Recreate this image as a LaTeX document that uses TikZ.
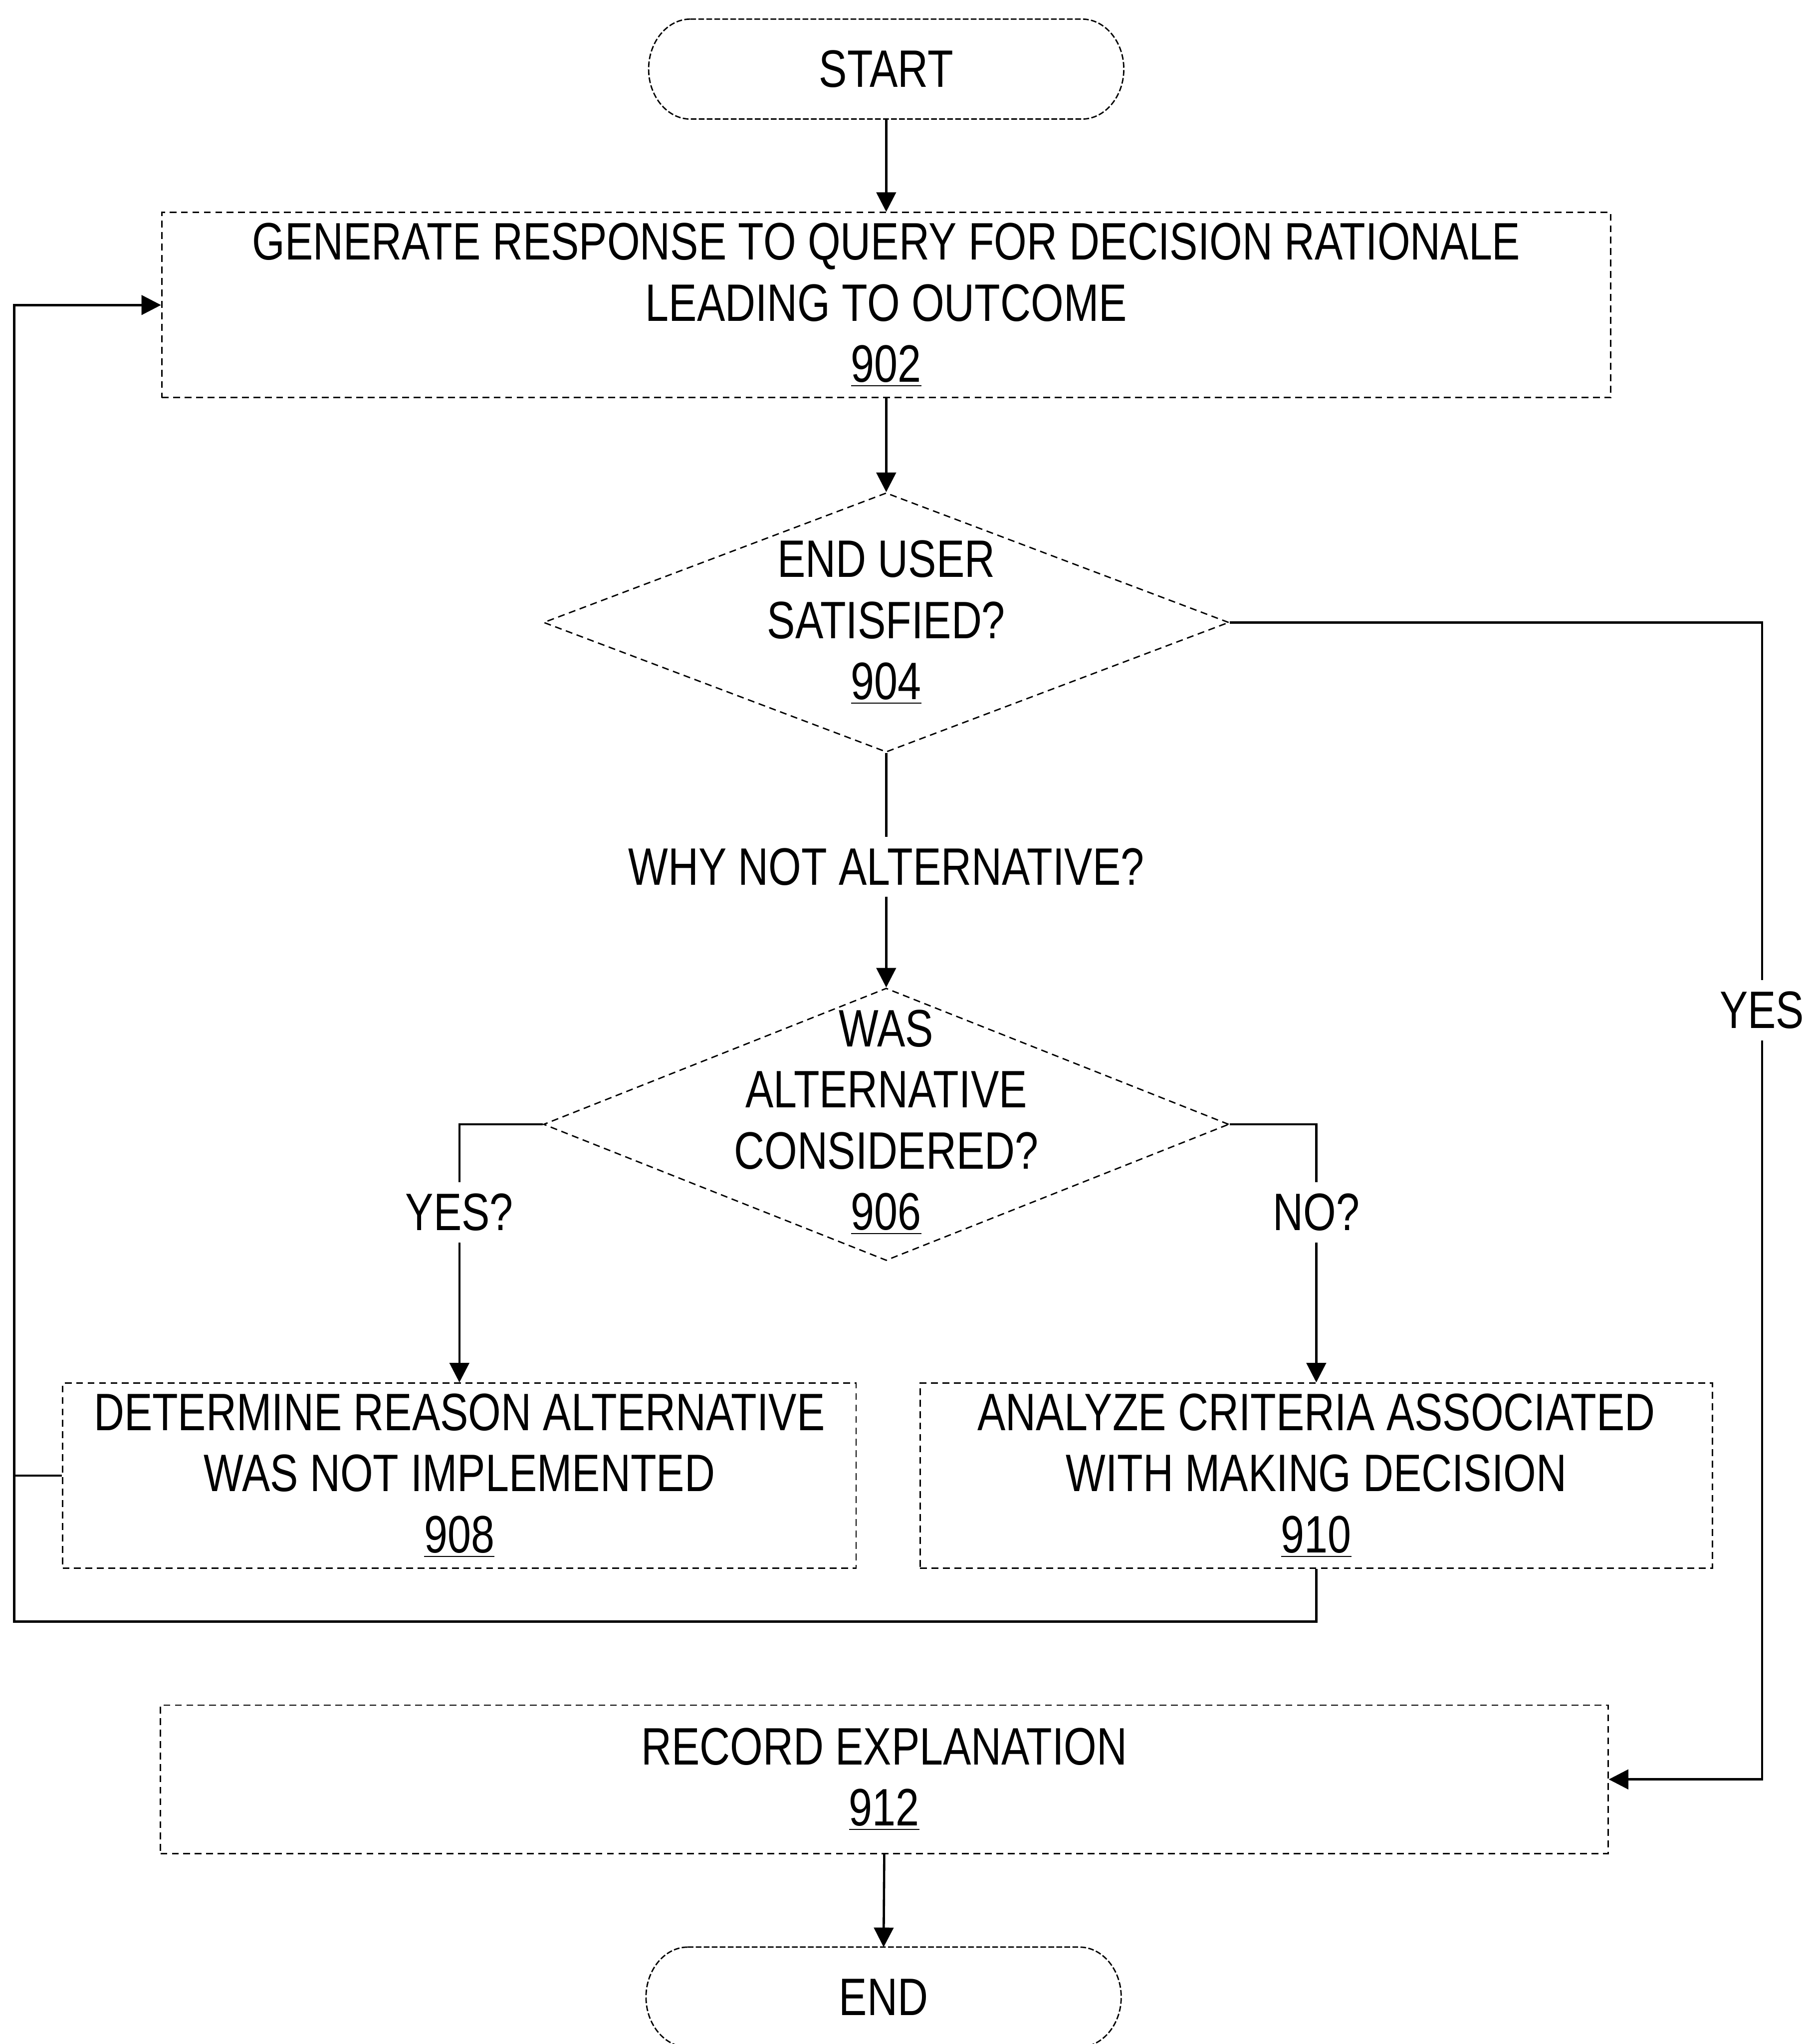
\documentclass[tikz,border=0pt]{standalone}
\usepackage{fontspec}
\setmainfont[FakeStretch=0.8]{Liberation Sans}
\usetikzlibrary{shapes.geometric,arrows.meta,calc}

\tikzset{
  px/.style={x=0.02cm,y=-0.02cm},
  txt/.style={font=\fontsize{23}{26.7}\selectfont, align=center, inner sep=0pt},
  boxline/.style={draw, line width=0.6pt, dash pattern=on 3pt off 2pt},
  procbox/.style={rectangle, boxline, inner sep=0pt, txt},
  decision/.style={diamond, boxline, inner sep=0pt},
  termshape/.style={rectangle, inner sep=0pt, minimum width=7.28cm, minimum height=1.52cm, txt},
  termline/.style={line width=0.6pt, dash pattern=on 2.5pt off 1pt},
  conn/.style={line width=1pt},
  arrow/.style={conn, -{Triangle[length=0.3cm,width=0.3cm]}},
  linelabel/.style={txt, fill=white, inner sep=5pt}
}

\newcommand{\terminator}[1]{%
  \draw[termline]
    ($(#1.north west)+(32,0)$) -- ($(#1.north east)+(-32,0)$)
    .. controls +(17.6,0) and +(0,-21) .. (#1.east)
    .. controls +(0,21) and +(17.6,0) .. ($(#1.south east)+(-32,0)$)
    -- ($(#1.south west)+(32,0)$)
    .. controls +(-17.6,0) and +(0,21) .. (#1.west)
    .. controls +(0,-21) and +(-17.6,0) .. cycle;}

\begin{document}
\begin{tikzpicture}[px]
\useasboundingbox (0,0) rectangle (1387,1568);

% terminals
\node[termshape] (start) at (680,53) {START};
\terminator{start}
\node[termshape] (end) at (678,1532) {END};
\terminator{end}

% process steps
\node[procbox, minimum width=22.24cm, minimum height=2.84cm] (b902) at (680,234)
  {GENERATE RESPONSE TO QUERY FOR DECISION RATIONALE\\LEADING TO OUTCOME\\\underline{902}};
\node[procbox, minimum width=12.18cm, minimum height=2.84cm] (b908) at (352.5,1132)
  {DETERMINE REASON ALTERNATIVE\\WAS NOT IMPLEMENTED\\\underline{908}};
\node[procbox, minimum width=12.16cm, minimum height=2.84cm] (b910) at (1010,1132)
  {ANALYZE CRITERIA ASSOCIATED\\WITH MAKING DECISION\\\underline{910}};
\node[procbox, minimum width=22.22cm, minimum height=2.28cm] (b912) at (678.5,1365)
  {RECORD EXPLANATION\\\underline{912}};

% decisions
\node[decision, minimum width=10.52cm, minimum height=3.98cm] (d904) at (680,477.5) {};
\node[txt] (t904) at (d904.center) {END USER\\SATISFIED?\\\underline{904}};
\node[decision, minimum width=10.52cm, minimum height=4.18cm] (d906) at (680,862.5) {};
\node[txt] (t906) at (680,861) {WAS\\ALTERNATIVE\\CONSIDERED?\\\underline{906}};

% connector corners
\coordinate (loopcorner) at (11,1244);
\coordinate (yescorner) at (1352,477.5);

% connectors
\draw[arrow] (start.south) -- (b902.north);
\draw[arrow] (b902.south) -- (d904.north);
\draw[arrow] (d904.south) -- (d906.north);
\draw[arrow] (d906.west) -| (b908.north);
\draw[arrow] (d906.east) -| (b910.north);
\draw[conn] (b908.west) -- (b908.west -| loopcorner);
\draw[arrow] (b910.south) |- (loopcorner) |- (b902.west);
\draw[arrow] (d904.east) -- (yescorner) |- (b912.east);
\draw[arrow] (b912.south) -- (end.north);

% connector labels
\node[linelabel] (why) at (680,665) {WHY NOT ALTERNATIVE?};
\node[linelabel] (yesq) at (352.5,930) {YES?};
\node[linelabel] (noq) at (1010,930) {NO?};
\node[linelabel] (yes) at (1352,775) {YES};
\end{tikzpicture}
\end{document}
